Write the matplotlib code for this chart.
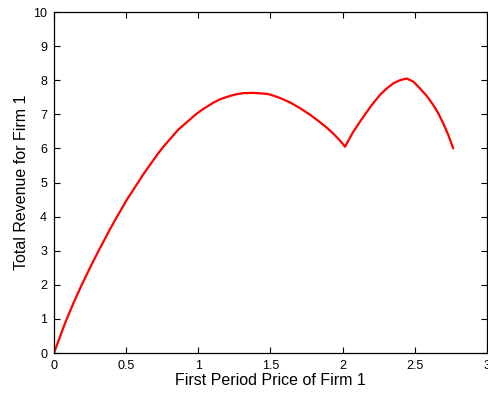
import matplotlib
matplotlib.use("Agg")
import matplotlib.pyplot as plt

# First period price of firm 1 and the resulting total revenue
price = [0.0, 0.030, 0.076, 0.134, 0.192, 0.261, 0.319, 0.388, 0.434, 0.504,
         0.619, 0.642, 0.723, 0.758, 0.861, 0.989, 1.035, 1.104, 1.150, 1.220,
         1.266, 1.312, 1.381, 1.474, 1.497, 1.566, 1.635, 1.705, 1.774, 1.843,
         1.890, 1.934, 1.982, 2.017,
         2.074, 2.144, 2.202, 2.259, 2.306, 2.352, 2.398, 2.444, 2.490, 2.536,
         2.583, 2.629, 2.663, 2.698, 2.733, 2.767]
revenue = [0.0, 0.35, 0.87, 1.46, 2.00, 2.60, 3.08, 3.63, 3.98, 4.49,
           5.24, 5.38, 5.86, 6.05, 6.55, 7.02, 7.16, 7.34, 7.44, 7.54,
           7.59, 7.62, 7.63, 7.60, 7.58, 7.48, 7.35, 7.18, 6.99, 6.77,
           6.61, 6.44, 6.23, 6.05,
           6.49, 6.93, 7.27, 7.57, 7.76, 7.91, 8.00, 8.05, 7.96, 7.76,
           7.54, 7.27, 7.03, 6.73, 6.39, 6.00]

xticks = [0, 0.5, 1, 1.5, 2, 2.5, 3]
xticklabels = ["0", "0.5", "1", "1.5", "2", "2.5", "3"]
yticks = list(range(0, 11))

plt.rcParams["font.family"] = ["Liberation Sans", "DejaVu Sans"]

fig = plt.figure(figsize=(4.88, 3.94), dpi=100)
ax = fig.add_axes([0.1107, 0.104, 0.887, 0.8655])

ax.plot(price, revenue, color="#ff0000", linewidth=1.6,
        solid_joinstyle="round", solid_capstyle="round")

ax.set_xlim(0, 3)
ax.set_ylim(0, 10)
ax.set_xticks(xticks)
ax.set_xticklabels(xticklabels)
ax.set_yticks(yticks)
ax.tick_params(direction="in", length=4, width=0.8, top=True, right=True,
               labelsize=9, pad=5, colors="black")
for s in ax.spines.values():
    s.set_linewidth(0.9)

ax.set_xlabel("First Period Price of Firm 1", fontsize=11.5, labelpad=1)
ax.set_ylabel("Total Revenue for Firm 1", fontsize=11.5, labelpad=3)

fig.savefig("out.png", dpi=100)
